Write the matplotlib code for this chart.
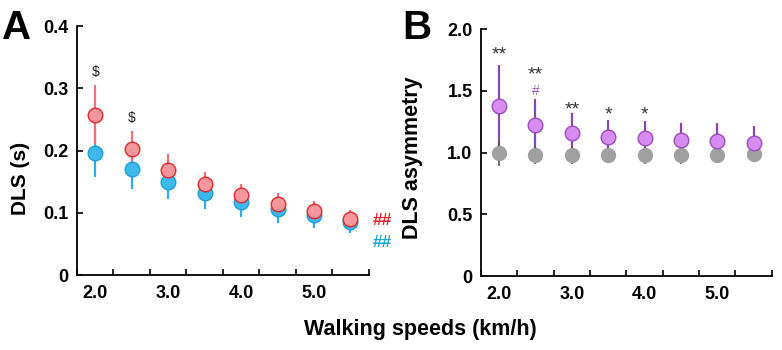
import numpy as np
import matplotlib.pyplot as plt

plt.rcParams['font.family'] = ['Liberation Sans', 'DejaVu Sans']
plt.rcParams['font.weight'] = 'bold'

# walking speeds (km/h)
speeds = [2.0, 2.5, 3.0, 3.5, 4.0, 4.5, 5.0, 5.5]
speed_labels = ['2.0', '3.0', '4.0', '5.0']

# panel A: DLS (s)
dls_red = [0.258, 0.202, 0.169, 0.147, 0.128, 0.115, 0.103, 0.090]
dls_red_err = [0.047, 0.030, 0.025, 0.019, 0.019, 0.017, 0.016, 0.014]
dls_blue = [0.197, 0.170, 0.150, 0.132, 0.118, 0.106, 0.096, 0.086]
dls_blue_err = [0.040, 0.032, 0.028, 0.025, 0.024, 0.022, 0.021, 0.019]

# panel B: DLS asymmetry
asym_purple = [1.378, 1.225, 1.158, 1.127, 1.117, 1.099, 1.096, 1.081]
asym_purple_err = [0.327, 0.208, 0.160, 0.137, 0.142, 0.142, 0.141, 0.135]
asym_gray = [0.995, 0.980, 0.980, 0.982, 0.980, 0.980, 0.984, 0.990]
asym_gray_err = [0.10, 0.07, 0.07, 0.06, 0.07, 0.07, 0.06, 0.06]

# significance marks (y = baseline of the text)
dollar_pos = [(2.0, 0.327), (2.5, 0.252)]
star_marks = [(2.0, 1.755, '**'), (2.5, 1.59, '**'), (3.0, 1.31, '**'),
              (3.5, 1.27, '*'), (4.0, 1.27, '*')]

RED_FILL, RED_EDGE, RED_LINE = '#F4969C', '#E8262B', '#F07078'
BLUE_FILL, BLUE_EDGE, BLUE_LINE = '#3DB8EA', '#1E9FD6', '#2AAEE3'
PURP_FILL, PURP_EDGE, PURP_LINE = '#D88CF2', '#9A4DBF', '#8B44B0'
GRAY = '#A0A0A0'

fig = plt.figure(figsize=(7.82, 3.5), dpi=100)
axA = fig.add_axes([0.0985, 0.214, 0.373, 0.711])
axB = fig.add_axes([0.615, 0.211, 0.372, 0.706])


def style_axis(ax, ymax, yticks, yticklabels):
    ax.set_xlim(1.75, 5.75)
    ax.set_ylim(0, ymax)
    for s in ['top', 'right']:
        ax.spines[s].set_visible(False)
    for s in ['left', 'bottom']:
        ax.spines[s].set_linewidth(1.3)
    ax.set_xticks([2.0, 3.0, 4.0, 5.0])
    ax.set_xticklabels(speed_labels, fontsize=13, fontweight='bold')
    ax.set_xticks(np.arange(1.75, 5.76, 0.5), minor=True)
    ax.tick_params(axis='x', which='major', length=0, pad=7)
    ax.tick_params(axis='x', which='minor', direction='in', length=4, width=1.2)
    ax.set_yticks(yticks)
    ax.set_yticklabels(yticklabels, fontsize=13, fontweight='bold')
    ax.tick_params(axis='y', direction='in', length=4, width=1.2, pad=6)


# panel A
axA.errorbar(speeds, dls_red, yerr=dls_red_err, fmt='none', ecolor=RED_LINE,
             elinewidth=1.6, zorder=2)
axA.errorbar(speeds, dls_blue, yerr=dls_blue_err, fmt='none', ecolor=BLUE_LINE,
             elinewidth=1.6, zorder=1)
axA.plot(speeds, dls_blue, 'o', ms=10.5, mfc=BLUE_FILL, mec=BLUE_EDGE, mew=1.0, zorder=3)
axA.plot(speeds, dls_red, 'o', ms=10.5, mfc=RED_FILL, mec=RED_EDGE, mew=1.0, zorder=4)
for x, y in dollar_pos:
    axA.text(x, y, '$', ha='center', va='center', fontsize=10, fontweight='normal',
             color='#222222')
axA.text(5.8, 0.088, '##', ha='left', va='center', fontsize=12.5, color='#E8262B',
         clip_on=False)
axA.text(5.8, 0.052, '##', ha='left', va='center', fontsize=12.5, color='#1BA3DB',
         clip_on=False)
style_axis(axA, 0.4, [0, 0.1, 0.2, 0.3, 0.4], ['0', '0.1', '0.2', '0.3', '0.4'])
axA.set_ylabel('DLS (s)', fontsize=15, fontweight='bold')
axA.yaxis.set_label_coords(-0.162, 0.39)

# panel B
axB.errorbar(speeds, asym_purple, yerr=asym_purple_err, fmt='none', ecolor=PURP_LINE,
             elinewidth=1.6, zorder=1)
axB.errorbar(speeds, asym_gray, yerr=asym_gray_err, fmt='none', ecolor='#555555',
             elinewidth=1.2, zorder=2)
axB.plot(speeds, asym_gray, 'o', ms=10, mfc=GRAY, mec=GRAY, zorder=3)
axB.plot(speeds, asym_purple, 'o', ms=10.5, mfc=PURP_FILL, mec=PURP_EDGE, mew=1.0, zorder=4)
for x, y, s in star_marks:
    axB.text(x, y, s, ha='center', va='baseline', fontsize=14, fontweight='normal',
             color='#333333')
axB.text(2.5, 1.47, '#', ha='center', va='baseline', fontsize=10, fontweight='normal',
         color='#9B59B6')
style_axis(axB, 2.0, [0, 0.5, 1.0, 1.5, 2.0], ['0', '0.5', '1.0', '1.5', '2.0'])
axB.set_ylabel('DLS asymmetry', fontsize=15.5, fontweight='bold')
axB.yaxis.set_label_coords(-0.2, 0.48)

# panel letters and shared x label
fig.text(0.003, 0.975, 'A', fontsize=29, fontweight='bold', va='top', ha='left')
fig.text(0.515, 0.975, 'B', fontsize=29, fontweight='bold', va='top', ha='left')
fig.text(0.537, 0.06, 'Walking speeds (km/h)', fontsize=15.5, fontweight='bold',
         ha='center', va='center')

fig.savefig('out.png', dpi=100)
